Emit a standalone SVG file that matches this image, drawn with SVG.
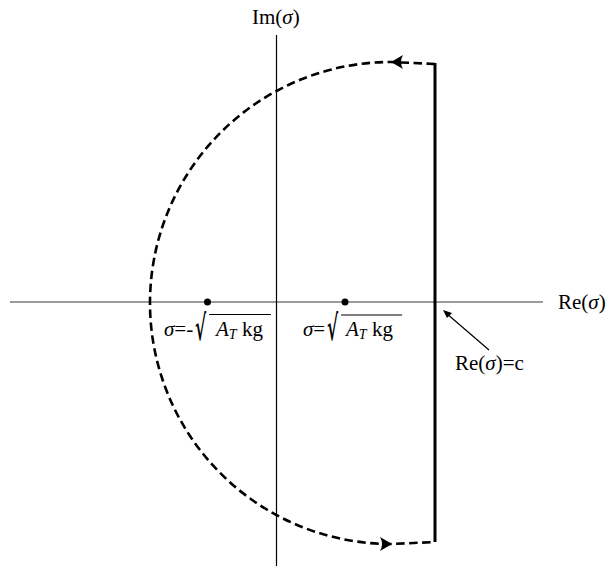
<svg xmlns="http://www.w3.org/2000/svg" width="614" height="570" viewBox="0 0 614 570">
<style>
.t{font-family:"Liberation Serif","Times New Roman",serif;font-size:21px;fill:#000}
.i{font-style:italic}
.rad{font-family:"DejaVu Serif",serif;font-size:20px;font-weight:bold;fill:#000}
.axh{stroke:#7a7a7a;stroke-width:1.6;fill:none}
.axv{stroke:#000;stroke-width:1.2;fill:none}
.dash{stroke:#000;stroke-width:2.6;fill:none;stroke-dasharray:8.5 4.5}
.ah{fill:#000;stroke:none}
</style>
<rect width="614" height="570" fill="#fff"/>
<g id="axes">
<line class="axh" x1="10" y1="302" x2="543" y2="302"/>
<line class="axv" x1="276.5" y1="35" x2="276.5" y2="566"/>
</g>
<g id="connectors">
<path class="dash" d="M435,64 L391,62 A241,241 0 0 0 391,544 L435,542"/>
<line x1="435" y1="63" x2="435" y2="542" stroke="#000" stroke-width="3"/>
<path class="ah" d="M391,62 L403,55 Q399,62 403,69 Z"/>
<path class="ah" d="M392,544 L380,537 Q384,544 380,551 Z"/>
<line x1="489" y1="350" x2="446" y2="313" stroke="#000" stroke-width="1.2"/>
<path class="ah" d="M443,310 L452,313 L447,318 Z"/>
</g>
<g id="poles">
<circle cx="207.5" cy="302" r="3.5" fill="#000"/>
<circle cx="345" cy="302" r="3.5" fill="#000"/>
</g>
<g id="labels">
<text class="t" x="252" y="24">Im(<tspan class="i">σ</tspan>)</text>
<text class="t" x="558" y="309">Re(<tspan class="i">σ</tspan>)</text>
<text class="t" x="455" y="370">Re(<tspan class="i">σ</tspan>)=c</text>
<g id="label-neg">
<text class="t" x="164" y="336"><tspan class="i">σ</tspan>=-</text>
<text class="rad" transform="translate(195,340) scale(0.85,1.75)">√</text>
<line x1="209" y1="314.5" x2="271" y2="314.5" stroke="#000" stroke-width="1.2"/>
<text class="t" x="216" y="336"><tspan class="i">A</tspan><tspan class="i" font-size="14" dy="3">T</tspan><tspan dy="-3"> kg</tspan></text>
</g>
<g id="label-pos">
<text class="t" x="303" y="336"><tspan class="i">σ</tspan>=</text>
<text class="rad" transform="translate(327,340) scale(0.85,1.75)">√</text>
<line x1="341" y1="315" x2="402" y2="315" stroke="#000" stroke-width="1.2"/>
<text class="t" x="346" y="336"><tspan class="i">A</tspan><tspan class="i" font-size="14" dy="3">T</tspan><tspan dy="-3"> kg</tspan></text>
</g>
</g>
</svg>
